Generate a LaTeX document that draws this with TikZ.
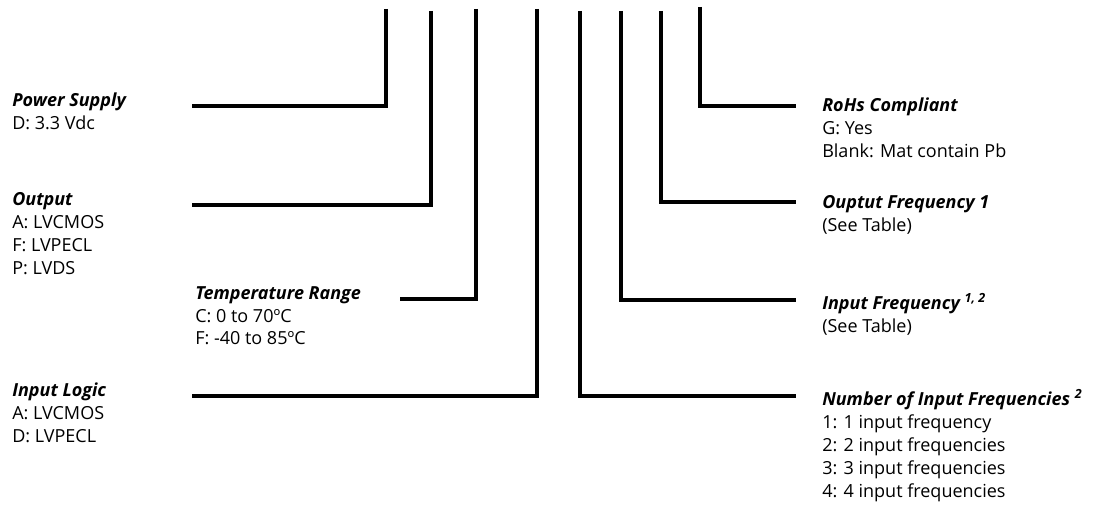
\documentclass[tikz,border=0pt]{standalone}
\usepackage{fontspec}
\setmainfont{Open Sans}

\begin{document}
\begin{tikzpicture}[x=0.75pt,y=-0.75pt,
    lead/.style={line width=3.3pt},
    field/.style={align=left,anchor=north west,inner sep=0pt,
                  font=\fontsize{13.5}{17.2}\selectfont}]
    \useasboundingbox (0,0) rectangle (1112,513);

    % tops of the leads
    \coordinate (t1) at (386,9);
    \coordinate (t2) at (431,11);
    \coordinate (t3) at (476,9);
    \coordinate (t4) at (537,9);
    \coordinate (t5) at (580,11);
    \coordinate (t6) at (621,11);
    \coordinate (t7) at (661,11);
    \coordinate (t8) at (700,7);

    % left hand fields
    \node (supply) [field] at (12,93)
        {\textbf{\textit{Power Supply}}\\D: 3.3 Vdc};
    \node (output) [field] at (12,192)
        {\textbf{\textit{Output}}\\A: LVCMOS\\F: LVPECL\\P: LVDS};
    \node (temp) [field] at (195,286)
        {\textbf{\textit{Temperature Range}}\\C: 0 to 70ºC\\F: -40 to 85ºC};
    \node (logic) [field] at (12,383)
        {\textbf{\textit{Input Logic}}\\A: LVCMOS\\D: LVPECL};

    % right hand fields
    \node (rohs) [field] at (822,98)
        {\textbf{\textit{RoHs Compliant}}\\G: Yes\\Blank: Mat contain Pb};
    \node (outfreq) [field] at (822,195)
        {\textbf{\textit{Ouptut Frequency 1}}\\(See Table)};
    \node (infreq) [field] at (822,293)
        {\textbf{\textit{Input Frequency \textsuperscript{1, 2}}}\\(See Table)};
    \node (number) [field] at (822,389)
        {\textbf{\textit{Number of Input Frequencies \textsuperscript{2}}}\\
         1: 1 input frequency\\2: 2 input frequencies\\
         3: 3 input frequencies\\4: 4 input frequencies};

    % free ends of the leads
    \coordinate (e1) at (192,106);
    \coordinate (e2) at (192,205);
    \coordinate (e3) at (400,299);
    \coordinate (e4) at (192,396);
    \coordinate (e5) at (796,396);
    \coordinate (e6) at (796,300);
    \coordinate (e7) at (796,202);
    \coordinate (e8) at (796,106);

    \foreach \i in {1,...,8}
        \draw [lead] (t\i) |- (e\i);
\end{tikzpicture}
\end{document}
